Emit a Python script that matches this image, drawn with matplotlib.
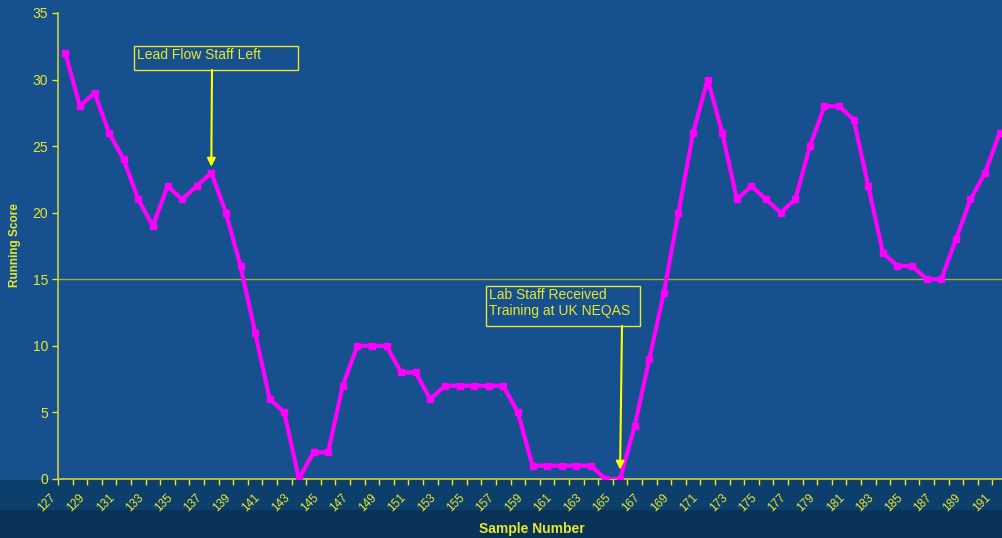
import numpy as np
import matplotlib.pyplot as plt
import matplotlib.transforms as mtransforms
from matplotlib.patches import Rectangle

# dados do gráfico
samples = list(range(127, 192))
score = [32, 28, 29, 26, 24, 21, 19, 22, 21, 22, 23, 20, 16, 11, 6, 5, 0, 2, 2, 7,
         10, 10, 10, 8, 8, 6, 7, 7, 7, 7, 7, 5, 1, 1, 1, 1, 1, 0, 0, 4,
         9, 14, 20, 26, 30, 26, 21, 22, 21, 20, 21, 25, 28, 28, 27, 22, 17, 16, 16, 15,
         15, 18, 21, 23, 26]
yticks = [0, 5, 10, 15, 20, 25, 30, 35]
limit = 15
notes = ['Lead Flow Staff Left', 'Lab Staff Received\nTraining at UK NEQAS']
note_samples = [137, 165]

yellow = '#e8e82a'
magenta = '#ff00ff'

plt.rcParams['font.family'] = ['Liberation Sans', 'DejaVu Sans']

fig = plt.figure(figsize=(10.03, 5.38), dpi=100)
fig.patch.set_facecolor('#16508f')

# fundo: faixas mais escuras embaixo do eixo
fig.patches.append(Rectangle((0, 0), 1, 58 / 538, transform=fig.transFigure,
                             facecolor='#0d3f6c', edgecolor='none', zorder=-5))
fig.patches.append(Rectangle((0, 0), 1, 28 / 538, transform=fig.transFigure,
                             facecolor='#093356', edgecolor='none', zorder=-4))

ax = fig.add_axes([58 / 1003, 59 / 538, 949 / 1003, 466 / 538])
ax.set_facecolor('none')

x = np.arange(len(samples))
ax.plot(x, score, color=magenta, lw=3, marker='s', ms=3.8, zorder=3)
ax.axhline(limit, color='#a8a83a', lw=1, zorder=2)

ax.set_xlim(-0.5, len(samples) - 0.5)
ax.set_ylim(0, 35)

# eixo y
ax.set_yticks(yticks)
ax.tick_params(axis='y', colors=yellow, labelcolor=yellow, length=4, width=1,
               labelsize=10, pad=3)

# eixo x: marcas nas fronteiras, rótulos a cada 2 amostras
ax.set_xticks(np.arange(len(samples) + 1) - 0.5)
ax.set_xticklabels([])
ax.tick_params(axis='x', which='major', colors=yellow, length=4, width=1)
ax.set_xticks(x[::2], minor=True)
ax.set_xticklabels([str(s) for s in samples[::2]], minor=True, rotation=45,
                   ha='right', va='top')
ax.tick_params(axis='x', which='minor', length=0, labelcolor=yellow,
               labelsize=8.5, pad=9)
off = mtransforms.ScaledTranslation(-7 / 100, 0, fig.dpi_scale_trans)
for lab in ax.get_xticklabels(minor=True):
    lab.set_transform(lab.get_transform() + off)

for s in ['top', 'right']:
    ax.spines[s].set_visible(False)
for s in ['left', 'bottom']:
    ax.spines[s].set_color('#cfcf3a')
    ax.spines[s].set_linewidth(1.2)

fig.text(532 / 1003, 1 - 529 / 538, 'Sample Number', color=yellow, fontsize=10,
         fontweight='bold', ha='center', va='center')
fig.text(15 / 1003, 1 - 245 / 538, 'Running Score', color=yellow, fontsize=8.5,
         fontweight='bold', ha='center', va='center', rotation=90)

# anotações
W, H = 949, 466
def frac(px, py):
    return (px - 58) / W, (479 - py) / H

boxes = [(134, 46, 298, 70), (486, 286, 640, 326)]
arrow_start = [(212, 70), (622, 326)]
arrow_end_val = [23.45, 0.7]
for note, ns, (bx0, by0, bx1, by1), st, ev in zip(notes, note_samples, boxes,
                                                  arrow_start, arrow_end_val):
    x0, y1 = frac(bx0, by0)
    x1, y0 = frac(bx1, by1)
    ax.add_patch(Rectangle((x0, y0), x1 - x0, y1 - y0, transform=ax.transAxes,
                           fill=False, edgecolor=yellow, lw=1, zorder=4))
    ax.text(x0 + 3 / W, y1 - 2 / H, note, transform=ax.transAxes, color=yellow,
            fontsize=10, va='top', ha='left', linespacing=1.15, zorder=5)
    ax.annotate('', xy=(samples.index(ns), ev), xycoords='data',
                xytext=frac(*st), textcoords='axes fraction',
                arrowprops=dict(arrowstyle='-|>', color='#ffff00', lw=1.5,
                                mutation_scale=12, shrinkA=0, shrinkB=0),
                zorder=5)

fig.savefig('out.png', dpi=100, facecolor=fig.get_facecolor())
